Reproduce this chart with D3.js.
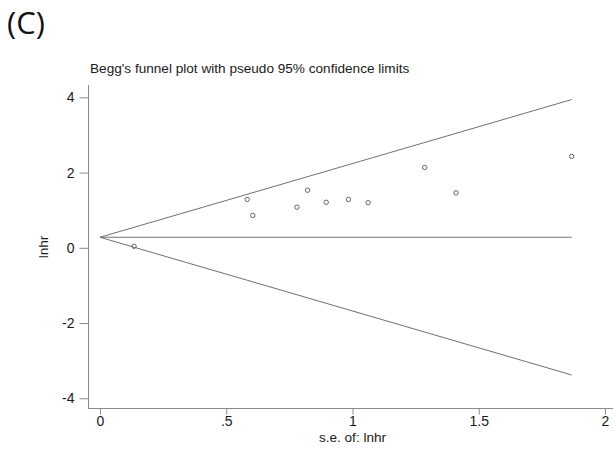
<!DOCTYPE html>
<html>
<head>
<meta charset="utf-8">
<script src="https://cdn.jsdelivr.net/npm/d3@7"></script>
<style>
  html, body { margin: 0; padding: 0; background: #fff; }
  svg { display: block; }
  text { font-family: "Liberation Sans", Arial, sans-serif; fill: #1a1a1a; }
</style>
</head>
<body>
<svg id="chart" width="616" height="450"></svg>
<script>
// Study standard errors and log hazard ratios
const seValues   = [0.135, 0.583, 0.605, 0.780, 0.822, 0.896, 0.984, 1.062, 1.286, 1.410, 1.868];
const lnhrValues = [0.04, 1.285, 0.86, 1.08, 1.53, 1.21, 1.285, 1.20, 2.135, 1.46, 2.43];
// Pseudo 95% confidence limits (endpoints at s.e. 0 and max s.e.)
const funnelSE    = [0, 1.868];
const funnelUpper = [0.28, 3.94];
const funnelLower = [0.28, -3.38];
const pooled      = [0.28, 0.28];
const xTicks = [0, 0.5, 1, 1.5, 2];
const xTickLabels = ["0", ".5", "1", "1.5", "2"];
const yTicks = [-4, -2, 0, 2, 4];
const yTickLabels = ["-4", "-2", "0", "2", "4"];

const svg = d3.select("#chart");
const x = d3.scaleLinear().domain([0, 2]).range([100, 605]);
const y = d3.scaleLinear().domain([-4, 4]).range([398.3, 97.3]);

const axisColor = "#8a8a8a";
const lineColor = "#707070";
const fontSize = "13.6px";

// panel label
svg.append("text").attr("x", 7).attr("y", 34)
  .style("font-family", "'Open Sans', sans-serif").style("font-size", "31px")
  .style("fill", "#111").text("(C)");

// title
svg.append("text").attr("x", 90).attr("y", 72.5)
  .style("font-size", fontSize).text("Begg's funnel plot with pseudo 95% confidence limits");

// y axis
const yAxis = d3.axisLeft(y).tickValues(yTicks).tickSize(9).tickPadding(5)
  .tickFormat((d, i) => yTickLabels[i]);
const gy = svg.append("g").attr("transform", "translate(88.5,0)").call(yAxis);
gy.select(".domain").remove();
gy.append("line").attr("x1", 0).attr("x2", 0).attr("y1", 85).attr("y2", 409).attr("stroke", axisColor);
gy.selectAll(".tick line").attr("stroke", axisColor);
gy.selectAll(".tick text").style("font-size", "14px").style("fill", "#1a1a1a")
  .style("font-family", "'Liberation Sans', Arial, sans-serif");

// x axis
const xAxis = d3.axisBottom(x).tickValues(xTicks).tickSize(6).tickPadding(2)
  .tickFormat((d, i) => xTickLabels[i]);
const gx = svg.append("g").attr("transform", "translate(0,408.5)").call(xAxis);
gx.select(".domain").remove();
gx.append("line").attr("x1", 88).attr("x2", 613).attr("y1", 0).attr("y2", 0).attr("stroke", axisColor);
gx.selectAll(".tick line").attr("stroke", axisColor);
gx.selectAll(".tick text").style("font-size", "14px").style("fill", "#1a1a1a")
  .style("font-family", "'Liberation Sans', Arial, sans-serif");

// axis titles
svg.append("text").attr("x", 352.5).attr("y", 441.5).attr("text-anchor", "middle")
  .style("font-size", fontSize).text("s.e. of: lnhr");
svg.append("text").attr("transform", "translate(48,247) rotate(-90)").attr("text-anchor", "middle")
  .style("font-size", fontSize).text("lnhr");

// funnel lines
const line = d3.line().x(d => x(d[0])).y(d => y(d[1]));
[funnelUpper, funnelLower, pooled].forEach(arr => {
  svg.append("path").datum(funnelSE.map((s, i) => [s, arr[i]]))
    .attr("d", line).attr("fill", "none").attr("stroke", lineColor).attr("stroke-width", 1);
});

// points
svg.append("g").selectAll("circle").data(seValues.map((s, i) => [s, lnhrValues[i]]))
  .join("circle")
  .attr("cx", d => x(d[0])).attr("cy", d => y(d[1])).attr("r", 2.2)
  .attr("fill", "none").attr("stroke", "#555").attr("stroke-width", 0.9);
</script>
</body>
</html>
